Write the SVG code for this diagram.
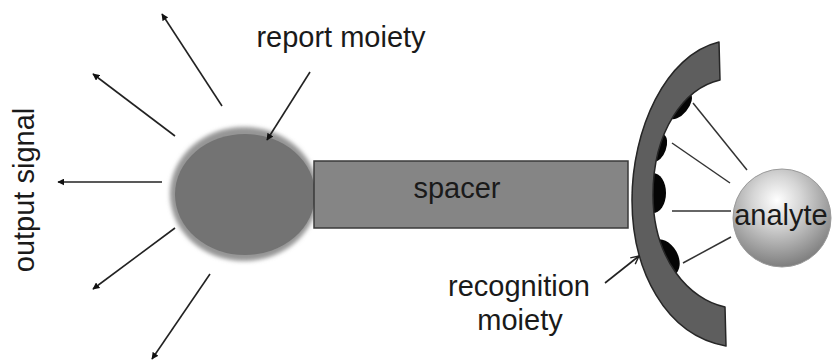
<svg xmlns="http://www.w3.org/2000/svg" width="832" height="362" viewBox="0 0 832 362">
  <style>
    .lbl { font-family: "Liberation Sans", Arial, sans-serif; font-size: 29px; fill: #1a1a1a; }
    .ray { stroke: #222; stroke-width: 1.6; fill: none; }
    .bond { stroke: #333; stroke-width: 1.5; fill: none; }
    .site { fill: #050505; }
  </style>
  <defs>
    <marker id="head" viewBox="0 0 10 10" refX="9" refY="5" markerWidth="7" markerHeight="7" orient="auto" markerUnits="userSpaceOnUse">
      <path d="M0,0 L10,5 L0,10 Z" fill="#111"/>
    </marker>
    <marker id="open" viewBox="0 0 10 10" refX="9" refY="5" markerWidth="10" markerHeight="10" orient="auto" markerUnits="userSpaceOnUse">
      <path d="M1,1 L9,5 L1,9" fill="none" stroke="#222" stroke-width="1.4"/>
    </marker>
    <filter id="soft" x="-20%" y="-20%" width="140%" height="140%">
      <feGaussianBlur stdDeviation="2.2"/>
    </filter>
    <radialGradient id="ball" cx="0.45" cy="0.32" r="0.7">
      <stop offset="0" stop-color="#ffffff"/>
      <stop offset="0.35" stop-color="#d6d6d6"/>
      <stop offset="1" stop-color="#7a7a7a"/>
    </radialGradient>
  </defs>

  <!-- report moiety -->
  <g id="report">
    <ellipse cx="244" cy="194" rx="74" ry="67" fill="#959595" filter="url(#soft)"/>
    <ellipse cx="245" cy="194.5" rx="70" ry="60.5" fill="#737373"/>
  </g>

  <!-- spacer -->
  <g id="spacer">
    <rect x="314" y="161" width="314" height="67" fill="#858585" stroke="#3a3a3a" stroke-width="1.5"/>
    <text class="lbl" x="457" y="198" text-anchor="middle">spacer</text>
  </g>

  <!-- recognition moiety with binding sites -->
  <g id="recognition">
    <ellipse class="site" cx="680" cy="106" rx="8" ry="16" transform="rotate(40 680 106)"/>
    <ellipse class="site" cx="659" cy="148" rx="7" ry="14" transform="rotate(20 659 148)"/>
    <ellipse class="site" cx="653" cy="193" rx="13" ry="20"/>
    <ellipse class="site" cx="664" cy="258" rx="14" ry="20" transform="rotate(-30 664 258)"/>
    <path d="M719,42 C665,55 632,130 632,200 C632,270 665,335 726,346 L725,307 C690,300 653,260 653,195 C653,130 685,88 720,80 Z" fill="#5e5e5e" stroke="#262626" stroke-width="1.5" stroke-linejoin="round"/>
  </g>

  <!-- analyte -->
  <g id="analyte">
    <circle cx="782" cy="218" r="49" fill="url(#ball)" stroke="#9a9a9a" stroke-width="1"/>
    <text class="lbl" x="781" y="225" text-anchor="middle">analyte</text>
  </g>

  <!-- labels -->
  <g id="labels">
    <text class="lbl" x="341" y="47" text-anchor="middle">report moiety</text>
    <text class="lbl" transform="translate(34 190) rotate(-90)" text-anchor="middle">output signal</text>
    <text class="lbl" x="519" y="296" text-anchor="middle">recognition</text>
    <text class="lbl" x="520" y="330" text-anchor="middle">moiety</text>
  </g>

  <!-- connectors: emitted signal, pointer arrows and binding bonds -->
  <g id="connectors">
    <line class="ray" x1="222" y1="106" x2="162" y2="14" marker-end="url(#head)"/>
    <line class="ray" x1="175" y1="136" x2="93" y2="74" marker-end="url(#head)"/>
    <line class="ray" x1="162" y1="182" x2="58" y2="182" marker-end="url(#head)"/>
    <line class="ray" x1="175" y1="228" x2="93" y2="289" marker-end="url(#head)"/>
    <line class="ray" x1="210" y1="274" x2="152" y2="359" marker-end="url(#head)"/>
    <line class="ray" x1="310" y1="72" x2="267" y2="140" marker-end="url(#head)"/>
    <line class="ray" x1="605" y1="283" x2="639" y2="256" marker-end="url(#open)"/>
    <line class="bond" x1="693" y1="103" x2="747" y2="170"/>
    <line class="bond" x1="672" y1="143" x2="730" y2="183"/>
    <line class="bond" x1="672" y1="211" x2="731" y2="211"/>
    <line class="bond" x1="683" y1="263" x2="731" y2="237"/>
  </g>
</svg>
